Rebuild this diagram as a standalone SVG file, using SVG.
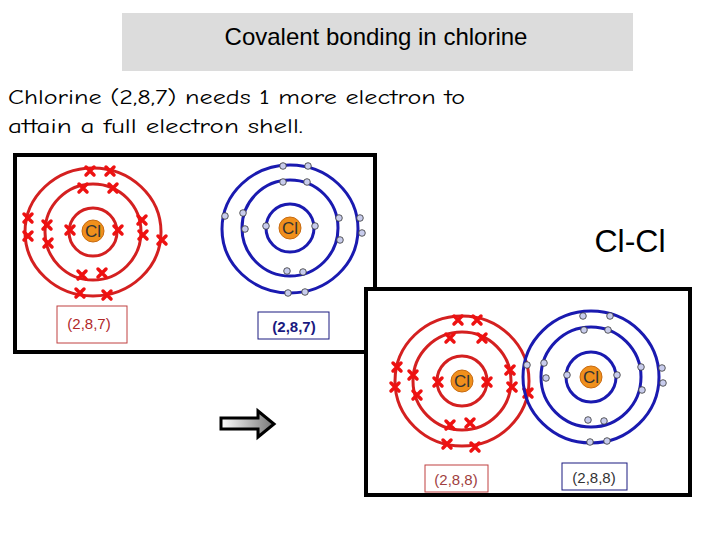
<svg xmlns="http://www.w3.org/2000/svg" xmlns:xlink="http://www.w3.org/1999/xlink" width="720" height="540" viewBox="0 0 720 540">
<style>
.r{fill:none;stroke:#d42020;stroke-width:3}
.b{fill:none;stroke:#1a1ab0;stroke-width:3}
.nuc{fill:#f0901c;stroke:#c86a10;stroke-width:1}
.cl{font-family:"Liberation Sans",Arial,sans-serif;font-size:17px;fill:#333;text-anchor:middle}
.lab{font-family:"Liberation Sans",Arial,sans-serif;font-size:15px;text-anchor:middle}
.frame{fill:#fff;stroke:#000;stroke-width:4}
.para{font-family:"Comic Neue","DejaVu Sans",sans-serif;font-size:20px;fill:#000}
</style>
<defs>
<g id="x"><path d="M-4,-4L4,4M4,-4L-4,4" stroke="#ee1111" stroke-width="3.5" stroke-linecap="round"/></g>
<g id="d"><circle r="3.3" fill="#c8ccec" stroke="#333" stroke-width="0.8"/></g>
<linearGradient id="ag" x1="0" x2="1"><stop offset="0" stop-color="#fff"/><stop offset="1" stop-color="#777"/></linearGradient>
</defs>
<g id="title"><rect x="122" y="13" width="511" height="58" fill="#dcdcdc"/><text x="376" y="45" font-family="Liberation Sans,Arial,sans-serif" font-size="24" text-anchor="middle">Covalent bonding in chlorine</text></g>
<g id="para"><text class="para" x="8" y="104" textLength="457" lengthAdjust="spacingAndGlyphs">Chlorine (2,8,7) needs 1 more electron to</text>
<text class="para" x="8" y="133" textLength="295" lengthAdjust="spacingAndGlyphs">attain a full electron shell.</text></g>
<g id="box1"><rect class="frame" x="15" y="155" width="360" height="197"/></g>
<g id="atomL">
<circle class="r" cx="93" cy="232" r="24"/><circle class="r" cx="93" cy="232" r="48"/><ellipse class="r" cx="93" cy="232" rx="68" ry="64"/>
<circle class="nuc" cx="93" cy="231" r="11"/><text class="cl" x="93" y="237">Cl</text>
<use href="#x" x="90" y="171"/><use href="#x" x="110" y="171"/><use href="#x" x="28" y="218"/><use href="#x" x="28" y="236"/><use href="#x" x="162" y="240"/><use href="#x" x="80" y="293"/><use href="#x" x="107" y="295"/>
<use href="#x" x="83" y="188"/><use href="#x" x="113" y="188"/><use href="#x" x="47" y="225"/><use href="#x" x="48" y="243"/><use href="#x" x="142" y="220"/><use href="#x" x="143" y="235"/><use href="#x" x="82" y="275"/><use href="#x" x="102" y="273"/>
<use href="#x" x="70" y="230"/><use href="#x" x="118" y="230"/>
</g>
<g id="atomR">
<circle class="b" cx="290" cy="228" r="24"/><circle class="b" cx="290" cy="228" r="48"/><ellipse class="b" cx="290" cy="229" rx="68" ry="64"/>
<circle class="nuc" cx="290" cy="228" r="11"/><text class="cl" x="290" y="234">Cl</text>
<use href="#d" x="283" y="166"/><use href="#d" x="308" y="166"/><use href="#d" x="225" y="216"/><use href="#d" x="360" y="218"/><use href="#d" x="362" y="233"/><use href="#d" x="288" y="293"/><use href="#d" x="305" y="292"/>
<use href="#d" x="283" y="182"/><use href="#d" x="307" y="182"/><use href="#d" x="243" y="213"/><use href="#d" x="245" y="229"/><use href="#d" x="339" y="218"/><use href="#d" x="340" y="240"/><use href="#d" x="287" y="271"/><use href="#d" x="303" y="272"/>
<use href="#d" x="266" y="226"/><use href="#d" x="315" y="226"/>
</g>
<g id="lab1"><rect x="57" y="306" width="70" height="37" fill="#fff" stroke="#c04040" stroke-width="1"/><text class="lab" x="89" y="329" fill="#b02828">(2,8,7)</text></g>
<g id="lab2"><rect x="258" y="312" width="71" height="27" fill="#fff" stroke="#1a1a80" stroke-width="1"/><text class="lab" x="294" y="332" fill="#1a1a80" font-weight="bold">(2,8,7)</text></g>
<g id="clcl"><text x="630" y="252" font-family="Liberation Sans,Arial,sans-serif" font-size="32" text-anchor="middle">Cl-Cl</text></g>
<g id="box2"><rect class="frame" x="366" y="289" width="324" height="206"/></g>
<g id="atomL2">
<circle class="r" cx="462" cy="381" r="25"/><circle class="r" cx="462" cy="381" r="49"/><ellipse class="r" cx="462" cy="381" rx="67" ry="65"/>
<circle class="nuc" cx="462" cy="381" r="11"/><text class="cl" x="462" y="387">Cl</text>
<use href="#x" x="458" y="320"/><use href="#x" x="477" y="320"/><use href="#x" x="397" y="367"/><use href="#x" x="395" y="387"/><use href="#x" x="528" y="393"/><use href="#x" x="447" y="444"/><use href="#x" x="475" y="447"/>
<use href="#x" x="450" y="338"/><use href="#x" x="482" y="338"/><use href="#x" x="413" y="375"/><use href="#x" x="417" y="395"/><use href="#x" x="510" y="370"/><use href="#x" x="512" y="387"/><use href="#x" x="450" y="425"/><use href="#x" x="470" y="423"/>
<use href="#x" x="438" y="382"/><use href="#x" x="487" y="382"/>
</g>
<g id="atomR2">
<circle class="b" cx="591" cy="377" r="25"/><circle class="b" cx="591" cy="377" r="50"/><ellipse class="b" cx="591" cy="377" rx="68" ry="66"/>
<circle class="nuc" cx="591" cy="377" r="11"/><text class="cl" x="591" y="383">Cl</text>
<use href="#d" x="583" y="316"/><use href="#d" x="610" y="316"/><use href="#d" x="527" y="365"/><use href="#d" x="662" y="368"/><use href="#d" x="663" y="383"/><use href="#d" x="590" y="442"/><use href="#d" x="607" y="441"/>
<use href="#d" x="584" y="330"/><use href="#d" x="608" y="330"/><use href="#d" x="544" y="363"/><use href="#d" x="546" y="378"/><use href="#d" x="641" y="367"/><use href="#d" x="642" y="390"/><use href="#d" x="588" y="420"/><use href="#d" x="604" y="421"/>
<use href="#d" x="567" y="375"/><use href="#d" x="617" y="375"/>
</g>
<g id="lab3"><rect x="425" y="465" width="63" height="27" fill="#fff" stroke="#c04040" stroke-width="1"/><text class="lab" x="456" y="485" fill="#a04040">(2,8,8)</text></g>
<g id="lab4"><rect x="562" y="463" width="65" height="27" fill="#fff" stroke="#1a1a80" stroke-width="1"/><text class="lab" x="594" y="483" fill="#333">(2,8,8)</text></g>
<g id="connectors"><path d="M221,418H258V411L274,424L258,437V429H221Z" fill="url(#ag)" stroke="#000" stroke-width="3" stroke-linejoin="miter"/></g>
</svg>
